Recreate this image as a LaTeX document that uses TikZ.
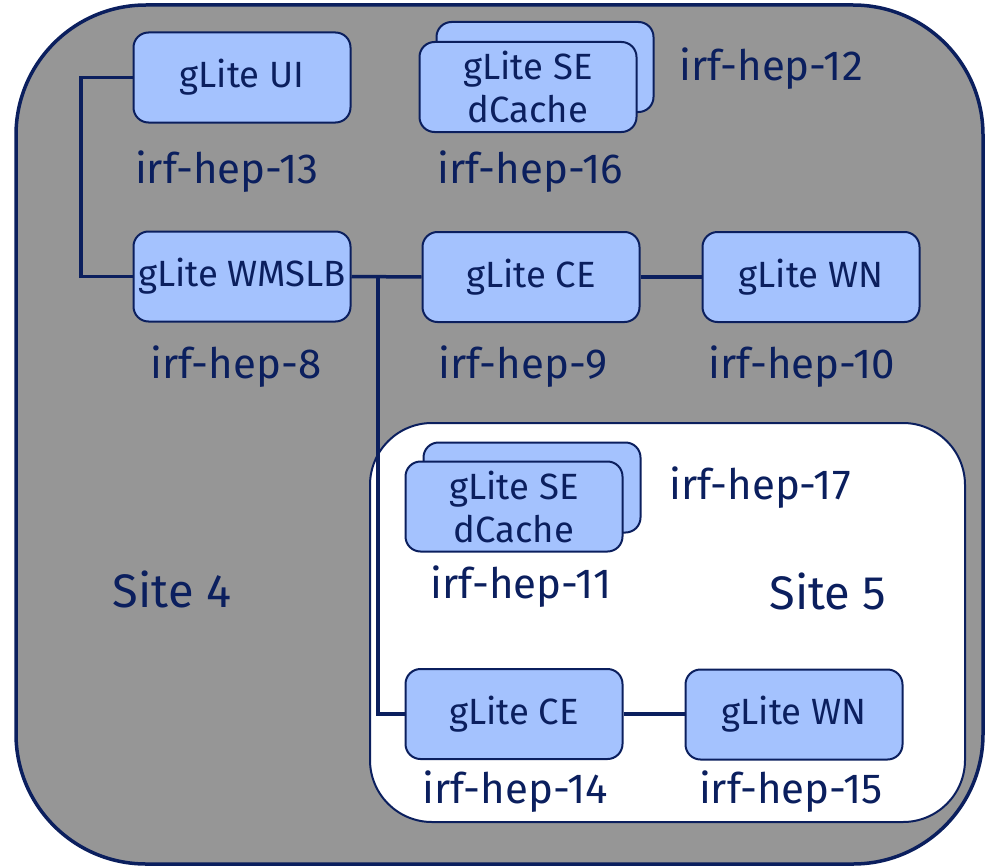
\documentclass[tikz,border=0pt]{standalone}
\usepackage{fontspec}
\setmainfont{Fira Sans}
\definecolor{navy}{HTML}{0B1F5E}
\definecolor{boxblue}{HTML}{A4C2FE}
\definecolor{sitegray}{HTML}{969696}
\begin{document}
\begin{tikzpicture}[x=1pt,y=-1pt,
 comp/.style={draw=navy, line width=2pt, fill=boxblue, rounded corners=15pt, minimum width=217pt, minimum height=90pt, inner sep=0pt, align=center, text=navy, font=\fontsize{36.5}{43}\selectfont},
 lbl/.style={text=navy, font=\fontsize{42}{46}\selectfont, inner sep=0pt, anchor=base},
 sitelbl/.style={text=navy, font=\fontsize{47}{50}\selectfont, inner sep=0pt, anchor=base},
 link/.style={draw=navy, line width=3.5pt}]
\useasboundingbox (0,0) rectangle (990,867);
\draw[draw=navy, line width=3.5pt, fill=sitegray, rounded corners=130pt] (16,5) rectangle (983,864);
\draw[draw=navy, line width=2pt, fill=white, rounded corners=62pt] (370,423) rectangle (965,822);

\coordinate (j1) at (81,0);
\coordinate (j2) at (378,0);

\node[comp] (ui) at (242,77.5) {gLite UI};
\node[comp] (wms) at (242,276.5) {gLite WMSLB};
\node[comp] (se16b) at (545,67) {};
\node[comp] (se16) at (528,87) {gLite SE\\dCache};
\node[comp] (ce9) at (531,277) {gLite CE};
\node[comp] (wn10) at (811,277) {gLite WN};
\node[comp] (se11b) at (532,487.5) {};
\node[comp] (se11) at (514,506.5) {gLite SE\\dCache};
\node[comp] (ce14) at (514,714) {gLite CE};
\node[comp] (wn15) at (794,714.5) {gLite WN};

\draw[link] (ui.west) -- (ui.west -| j1) -- (wms.west -| j1) -- (wms.west);
\draw[link] (wms.east) -- (ce9.west);
\draw[link] (wms.east -| j2) -- (ce14.west -| j2) -- (ce14.west);
\draw[link] (ce9.east) -- (wn10.west);
\draw[link] (ce14.east) -- (ce14.east -| wn15.west);

\node[lbl] (l13) at (227,183) {irf-hep-13};
\node[lbl] (l16) at (530,183) {irf-hep-16};
\node[lbl] (l12) at (771,81) {irf-hep-12};
\node[lbl] (l8) at (236,378) {irf-hep-8};
\node[lbl] (l9) at (523,378) {irf-hep-9};
\node[lbl] (l10) at (802,378) {irf-hep-10};
\node[lbl] (l17) at (760,499) {irf-hep-17};
\node[lbl] (l11) at (521,598) {irf-hep-11};
\node[sitelbl] (s4) at (172,607) {Site 4};
\node[sitelbl] (s5) at (828,609) {Site 5};
\node[lbl] (l14) at (515,803) {irf-hep-14};
\node[lbl] (l15) at (791,803) {irf-hep-15};
\end{tikzpicture}
\end{document}
